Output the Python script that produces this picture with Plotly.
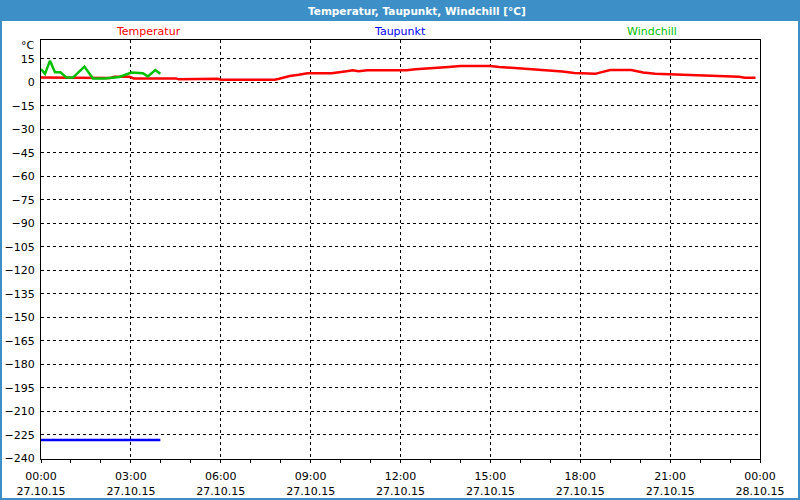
import plotly.graph_objects as go
import pandas as pd

# ---------------- data ----------------
base = pd.Timestamp("2015-10-27 00:00")

temp_hours = [0.0, 1.3, 1.4, 2.3, 2.45, 2.95, 3.1, 4.5, 4.6, 5.2, 5.3, 5.9, 6.0, 7.8,
              7.95, 8.1, 8.3, 8.6, 8.9, 9.7, 9.9, 10.2, 10.4, 10.6, 10.9, 12.2, 12.5,
              13.0, 13.6, 14.0, 15.0, 15.3, 15.8, 16.3, 16.9, 17.4, 17.8, 18.2, 18.5,
              18.65, 18.8, 19.0, 19.7, 19.9, 20.1, 20.5, 21.0, 21.6, 22.3, 23.3, 23.5, 23.85]
temp_values = [3.0, 3.0, 2.7, 2.7, 3.5, 3.5, 2.5, 2.5, 1.9, 1.9, 2.3, 2.3, 1.7, 1.7,
               2.3, 3.1, 4.0, 4.8, 5.8, 5.8, 6.5, 7.1, 7.7, 7.1, 7.7, 7.7, 8.3,
               9.2, 9.8, 10.4, 10.4, 9.8, 9.2, 8.5, 7.7, 6.9, 6.0, 5.4, 5.4,
               6.2, 6.9, 7.9, 7.9, 7.1, 6.2, 5.4, 5.0, 4.6, 4.0, 3.6, 2.9, 2.9]

wind_minutes = [0, 8, 18, 28, 39, 51, 64, 87, 104, 127, 157, 170, 181, 204, 214, 229, 239]
wind_values = [8.4, 5.4, 13.8, 6.4, 6.4, 3.0, 3.0, 10.0, 2.4, 2.4, 3.4, 4.8, 6.2, 5.8, 3.8, 7.8, 5.4]

dew_minutes = [0, 239]
dew_values = [-228.2, -228.2]

y_ticks = list(range(-240, 16, 15))
x_tick_hours = [0, 3, 6, 9, 12, 15, 18, 21, 24]
x_tick_labels = ["00:00<br>27.10.15", "03:00<br>27.10.15", "06:00<br>27.10.15",
                 "09:00<br>27.10.15", "12:00<br>27.10.15", "15:00<br>27.10.15",
                 "18:00<br>27.10.15", "21:00<br>27.10.15", "00:00<br>28.10.15"]

title_text = "Temperatur, Taupunkt, Windchill [°C]"
series_names = ["Temperatur", "Taupunkt", "Windchill"]
series_colors = ["#ff0000", "#0000ff", "#00c000"]

# ---------------- figure ----------------
t_temp = [base + pd.Timedelta(hours=h) for h in temp_hours]
t_wind = [base + pd.Timedelta(minutes=m) for m in wind_minutes]
t_dew = [base + pd.Timedelta(minutes=m) for m in dew_minutes]
t_ticks = [base + pd.Timedelta(hours=h) for h in x_tick_hours]

fig = go.Figure()
fig.add_trace(go.Scatter(x=t_dew, y=dew_values, mode="lines",
                         line=dict(color=series_colors[1], width=2.5), name=series_names[1]))
fig.add_trace(go.Scatter(x=t_temp, y=temp_values, mode="lines",
                         line=dict(color=series_colors[0], width=2.5), name=series_names[0]))
fig.add_trace(go.Scatter(x=t_wind, y=wind_values, mode="lines",
                         line=dict(color=series_colors[2], width=2.5), name=series_names[2]))

W, H = 800, 500
L, R, T, B = 41, 40, 40, 41
pw, ph = W - L - R, H - T - B


def px(xp):
    return (xp - L) / pw


def py(yp):
    return (H - B - yp) / ph


FONT = "DejaVu Sans"
blue = "#3d8fc7"

shapes = [
    dict(type="rect", xref="paper", yref="paper", x0=px(0), x1=px(800), y0=py(21), y1=py(0),
         fillcolor=blue, line=dict(width=0), layer="above"),
    dict(type="rect", xref="paper", yref="paper", x0=px(0), x1=px(2), y0=py(500), y1=py(0),
         fillcolor=blue, line=dict(width=0), layer="above"),
    dict(type="rect", xref="paper", yref="paper", x0=px(798), x1=px(800), y0=py(500), y1=py(0),
         fillcolor=blue, line=dict(width=0), layer="above"),
    dict(type="rect", xref="paper", yref="paper", x0=px(0), x1=px(800), y0=py(500), y1=py(498),
         fillcolor=blue, line=dict(width=0), layer="above"),
]

annotations = [
    dict(text="<b>" + title_text + "</b>", xref="paper", yref="paper", x=px(417), y=py(10.5),
         xanchor="center", yanchor="middle", showarrow=False,
         font=dict(family=FONT, size=10.5, color="white")),
    dict(text="°C", xref="paper", yref="paper", x=px(37), y=py(45),
         xanchor="right", yanchor="middle", showarrow=False,
         font=dict(family=FONT, size=11, color="black")),
]
for name, col, xp in zip(series_names, series_colors, [148, 400, 652]):
    annotations.append(dict(text=name, xref="paper", yref="paper", x=px(xp), y=py(31),
                            xanchor="center", yanchor="middle", showarrow=False,
                            font=dict(family=FONT, size=11, color=col)))

fig.update_layout(
    width=W, height=H,
    margin=dict(l=L, r=R, t=T, b=B, pad=0, autoexpand=False),
    paper_bgcolor="white", plot_bgcolor="white",
    showlegend=False,
    font=dict(family=FONT, size=11, color="black"),
    shapes=shapes, annotations=annotations,
    xaxis=dict(
        range=[base, base + pd.Timedelta(hours=24)],
        tickvals=t_ticks, ticktext=x_tick_labels,
        showgrid=True, gridcolor="black", gridwidth=1, griddash="3px,3px",
        showline=True, linecolor="black", linewidth=1, mirror=True,
        ticks="outside", ticklen=3, tickcolor="black",
        minor=dict(dtick=3600000, ticks="outside", ticklen=3, tickcolor="black", showgrid=False),
        tickfont=dict(family=FONT, size=11, color="black"),
        ticklabelstandoff=4, automargin=False,
        zeroline=False, fixedrange=True,
    ),
    yaxis=dict(
        range=[-240.4, 27],
        tickvals=y_ticks,
        showgrid=True, gridcolor="black", gridwidth=1, griddash="3px,3px",
        showline=True, linecolor="black", linewidth=1, mirror=True,
        ticks="", tickfont=dict(family=FONT, size=11, color="black"),
        ticklabelstandoff=3, automargin=False,
        zeroline=False, fixedrange=True,
    ),
)

fig.write_html("out.html")
